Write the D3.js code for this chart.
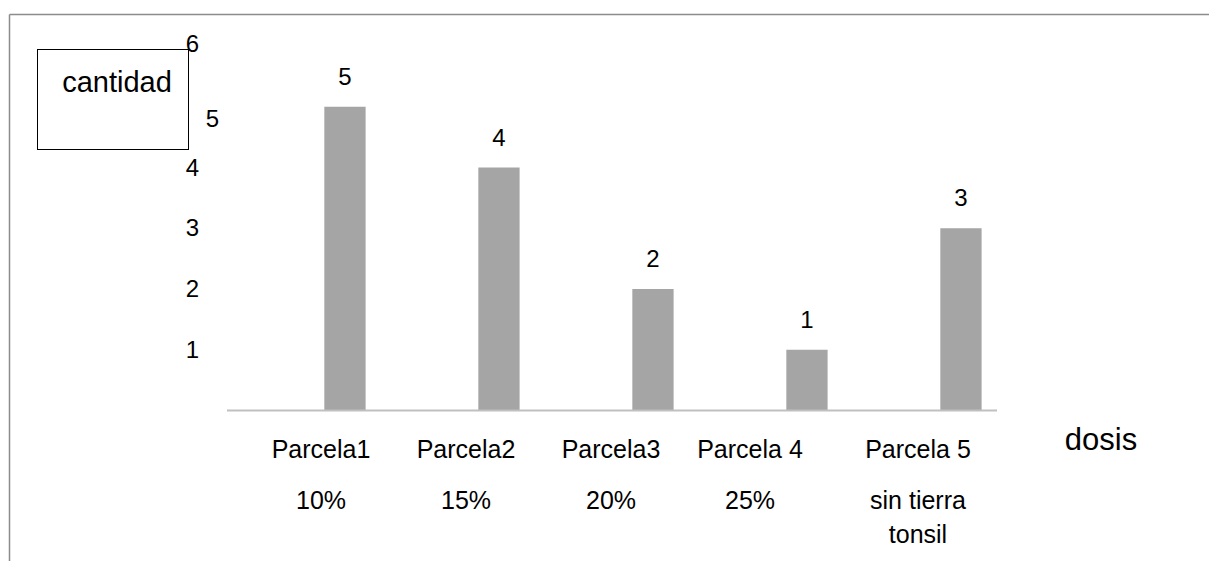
<!DOCTYPE html>
<html>
<head>
<meta charset="utf-8">
<script src="https://cdn.jsdelivr.net/npm/d3@7"></script>
<style>
  html, body { margin: 0; padding: 0; background: #fff; }
  svg { display: block; font-family: "Liberation Sans", Arial, sans-serif; }
</style>
</head>
<body>
<svg id="chart" width="1209" height="561"></svg>
<script>
// Plots and their counts
const categories = ["Parcela1", "Parcela2", "Parcela3", "Parcela 4", "Parcela 5"];
const doses = [["10%"], ["15%"], ["20%"], ["25%"], ["sin tierra", "tonsil"]];
const values = [5, 4, 2, 1, 3];
const yTicks = [1, 2, 3, 4, 5, 6];

// Small horizontal nudges for the category text boxes
const labelShift = [17, 8, -1, -16, -2];

const svg = d3.select("#chart");

const x = d3.scaleBand().domain(categories).range([227, 997]).paddingInner(0).paddingOuter(0);
const y = d3.scaleLinear().domain([0, 6]).range([410.5, 46]);
const bw = x.bandwidth();

// Frame lines
svg.append("line").attr("x1", 9.5).attr("x2", 1209).attr("y1", 14.5).attr("y2", 14.5)
  .attr("stroke", "#8c8c8c").attr("stroke-width", 1.5);
svg.append("line").attr("x1", 9.5).attr("x2", 9.5).attr("y1", 14.5).attr("y2", 561)
  .attr("stroke", "#8c8c8c").attr("stroke-width", 1.5);

// Bars
svg.append("g").selectAll("rect").data(values).join("rect")
  .attr("x", (d, i) => x(categories[i]) + bw * 0.632)
  .attr("width", bw * 0.268)
  .attr("y", d => y(d))
  .attr("height", d => y(0) - y(d))
  .attr("fill", "#a5a5a5");

// Baseline
svg.append("line").attr("x1", x.range()[0]).attr("x2", x.range()[1])
  .attr("y1", y(0)).attr("y2", y(0)).attr("stroke", "#c0c0c0").attr("stroke-width", 2);

// Value labels
svg.append("g").selectAll("text").data(values).join("text")
  .attr("x", (d, i) => x(categories[i]) + bw * 0.766)
  .attr("y", d => y(d) - 22)
  .attr("text-anchor", "middle")
  .attr("font-size", 24)
  .attr("fill", "#000")
  .text(d => d);

// Y tick labels
svg.append("g").selectAll("text").data(yTicks).join("text")
  .attr("x", d => d === 5 ? 219 : 199)
  .attr("y", d => y(d) + 8 + (d === 5 ? 12 : 0) - (d === 6 ? 2 : 0))
  .attr("text-anchor", "end")
  .attr("font-size", 24)
  .attr("fill", "#000")
  .text(d => d);

// Axis title box
svg.append("rect").attr("x", 37.5).attr("y", 49.5).attr("width", 151).attr("height", 100)
  .attr("fill", "none").attr("stroke", "#000").attr("stroke-width", 1);
svg.append("text").attr("x", 117).attr("y", 92).attr("text-anchor", "middle")
  .attr("font-size", 29).attr("fill", "#000").text("cantidad");

// Category labels
const cat = svg.append("g").selectAll("g").data(categories).join("g")
  .attr("transform", (d, i) => `translate(${x(d) + bw / 2 + labelShift[i]},0)`);
cat.append("text").attr("y", 458).attr("text-anchor", "middle")
  .attr("font-size", 25).attr("fill", "#000").text(d => d);
cat.each(function(d, i) {
  d3.select(this).selectAll("text.dose").data(doses[i]).join("text")
    .attr("class", "dose")
    .attr("y", (t, j) => 509 + j * 34)
    .attr("text-anchor", "middle")
    .attr("font-size", 25).attr("fill", "#000").text(t => t);
});

// X axis title
svg.append("text").attr("x", 1101).attr("y", 450).attr("text-anchor", "middle")
  .attr("font-size", 31).attr("fill", "#000").text("dosis");
</script>
</body>
</html>
